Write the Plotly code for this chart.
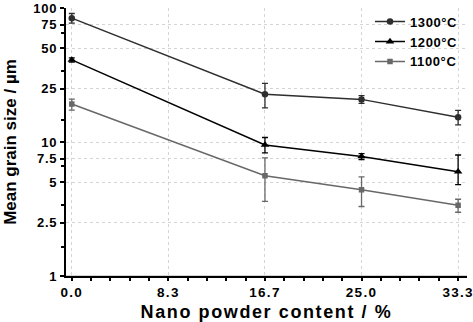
import plotly.graph_objects as go

x_vals = [0.0, 16.667, 25.0, 33.333]
t1300 = [84.0, 22.7, 20.8, 15.3]
t1300_err = [7.0, 4.7, 1.4, 1.9]
t1200 = [41.0, 9.5, 7.8, 6.0]
t1200_err_plus = [1.5, 1.3, 0.4, 2.0]
t1200_err_minus = [1.5, 1.2, 0.4, 1.2]
t1100 = [19.2, 5.6, 4.4, 3.37]
t1100_err_plus = [1.7, 2.0, 1.1, 0.37]
t1100_err_minus = [1.9, 2.0, 1.1, 0.38]

x_ticks = [0.0, 8.333, 16.667, 25.0, 33.333]
x_ticktext = ["0.0", "8.3", "16.7", "25.0", "33.3"]
y_ticks = [1, 2.5, 5, 7.5, 10, 25, 50, 75, 100]
y_ticktext = ["1", "2.5", "5", "7.5", "10", "25", "50", "75", "100"]
y_minor = [1.65, 3.4, 6.6, 14.5, 34, 65]

FONT = "Liberation Sans, Arial, sans-serif"


def spaced(t, px):
    return f'<span style="letter-spacing:{px}px">{t}</span>'


fig = go.Figure()


def add(name, y, ep, em, color, symbol, size):
    fig.add_trace(go.Scatter(
        x=x_vals, y=y, name=spaced(name, 0.6), mode="lines+markers",
        line=dict(color=color, width=1.5),
        marker=dict(symbol=symbol, size=size, color=color),
        error_y=dict(type="data", array=ep, arrayminus=em, symmetric=False,
                     color=color, thickness=1.3, width=3),
    ))


add("1300°C", t1300, t1300_err, t1300_err, "#2e2e2e", "circle", 6.5)
add("1200°C", t1200, t1200_err_plus, t1200_err_minus, "#000000", "triangle-up", 7.5)
add("1100°C", t1100, t1100_err_plus, t1100_err_minus, "#686868", "square", 5.5)

fig.add_shape(type="line", xref="paper", x0=0, x1=1, yref="y", y0=1, y1=1,
              line=dict(color="#c4c4c4", width=1.3), layer="below")

fig.update_layout(
    width=473, height=322,
    margin=dict(l=66, r=6, t=8, b=46),
    paper_bgcolor="white", plot_bgcolor="white",
    font=dict(family=FONT, color="black", size=13),
    showlegend=True,
    legend=dict(x=0.99, y=1.005, xanchor="right", yanchor="top",
                bgcolor="rgba(0,0,0,0)", font=dict(size=13, family=FONT, weight="bold"),
                tracegroupgap=0, itemwidth=30),
    xaxis=dict(
        range=[-0.5, 34.1], tickvals=x_ticks, ticktext=[spaced(t, 1.3) for t in x_ticktext],
        showline=True, linecolor="black", linewidth=2, automargin=False,
        ticklabeloverflow="allow",
        ticks="outside", ticklen=3, tickwidth=1.5, tickcolor="black",
        tickfont=dict(size=13.5, family=FONT, weight="bold"),
        showgrid=True, gridcolor="#d4d4d4", griddash="dot", gridwidth=1,
        zeroline=False,
        minor=dict(dtick=8.3333 / 5, ticks="outside", ticklen=3, tickcolor="black", showgrid=False),
        title=dict(text=spaced("Nano powder content / %", 1.6),
                   font=dict(size=18, family=FONT, weight="bold"), standoff=8),
    ),
    yaxis=dict(
        type="log", range=[0, 2], tickvals=y_ticks, ticktext=[spaced(t, 0.8) for t in y_ticktext],
        showline=True, linecolor="black", linewidth=2, automargin=False,
        ticklabeloverflow="allow",
        ticks="outside", ticklen=4, tickwidth=1.5, tickcolor="black",
        tickfont=dict(size=13, family=FONT, weight="bold"),
        showgrid=True, gridcolor="#d4d4d4", griddash="dot", gridwidth=1,
        zeroline=False,
        minor=dict(tickvals=y_minor, ticks="outside", ticklen=3, tickcolor="black", showgrid=False),
        title=dict(text="Mean grain size / µm", font=dict(size=17, family=FONT, weight="bold"), standoff=12),
    ),
)

fig.write_html("out.html")
